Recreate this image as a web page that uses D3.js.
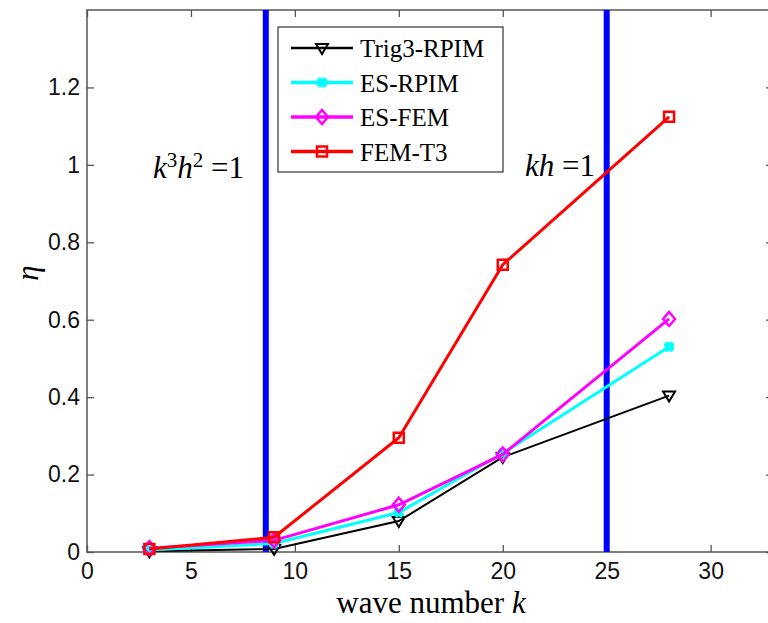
<!DOCTYPE html>
<html>
<head>
<meta charset="utf-8">
<script src="https://cdn.jsdelivr.net/npm/d3@7"></script>
<style>
  body { margin: 0; background: #fff; }
  svg { display: block; }
</style>
</head>
<body>
<div id="canvas"></div>
<script>
"use strict"

/* Canvas size and margins */
let svgWidth = 768;
let svgHeight = 623;
let leftMargin = 87
let topMargin = 10
let plotBottom = 552
let plotRight = 773

/* Data */
let waveNumbers = [3, 9, 15, 20, 28];
let trig3Rpim = [0.002, 0.008, 0.080, 0.245, 0.404];
let esRpim = [0.005, 0.022, 0.102, 0.255, 0.530];
let esFem = [0.010, 0.030, 0.122, 0.252, 0.602];
let femT3 = [0.008, 0.038, 0.295, 0.742, 1.124];
let seriesNames = ["Trig3-RPIM", "ES-RPIM", "ES-FEM", "FEM-T3"];
let xTicks = [0, 5, 10, 15, 20, 25, 30];
let yTicks = [0, 0.2, 0.4, 0.6, 0.8, 1, 1.2];
let limitLines = [8.6, 25];

let series = [
    { name: seriesNames[0], values: trig3Rpim, color: "#000000", width: 2, marker: "tri" },
    { name: seriesNames[1], values: esRpim, color: "#00ffff", width: 3, marker: "star" },
    { name: seriesNames[2], values: esFem, color: "#ff00ff", width: 3, marker: "diamond" },
    { name: seriesNames[3], values: femT3, color: "#ff0000", width: 3, marker: "square" }
];

let svg = d3.select("#canvas")
    .append("svg")
    .attr("width", svgWidth)
    .attr("height", svgHeight);

let xScale = d3.scaleLinear()
    .domain([0, 33])
    .range([leftMargin, plotRight]);

let yScale = d3.scaleLinear()
    .domain([0, 1.4])
    .range([plotBottom, topMargin]);

/* Frame and tick marks */
let axisColor = "#555";
svg.append("rect")
    .attr("x", leftMargin)
    .attr("y", topMargin)
    .attr("width", plotRight - leftMargin)
    .attr("height", plotBottom - topMargin)
    .attr("fill", "none")
    .attr("stroke", axisColor)
    .attr("stroke-width", 1.5);

let xAxis = d3.axisBottom(xScale).tickValues(xTicks).tickSizeInner(-7).tickSizeOuter(0).tickPadding(11);
svg.append("g").attr("transform", "translate(0," + plotBottom + ")").call(xAxis);
let yAxis = d3.axisLeft(yScale).tickValues(yTicks).tickSizeInner(-7).tickSizeOuter(0).tickPadding(7)
    .tickFormat(d3.format("~g"));
svg.append("g").attr("transform", "translate(" + leftMargin + ",0)").call(yAxis);

/* Ticks on top and right side */
svg.append("g").attr("transform", "translate(0," + topMargin + ")")
    .call(d3.axisTop(xScale).tickValues(xTicks).tickSizeInner(-7).tickSizeOuter(0).tickFormat(""));
svg.append("g").attr("transform", "translate(" + plotRight + ",0)")
    .call(d3.axisRight(yScale).tickValues(yTicks).tickSizeInner(-7).tickSizeOuter(0).tickFormat(""));

svg.selectAll(".domain").remove();
svg.selectAll(".tick line").attr("stroke", axisColor).attr("stroke-width", 1.3);
svg.selectAll(".tick text")
    .attr("fill", "#111")
    .style("font-family", "'Liberation Sans', Arial, sans-serif")
    .style("font-size", "23px");

/* Vertical limit lines */
svg.selectAll(".limit")
    .data(limitLines)
    .join("line")
    .attr("class", "limit")
    .attr("x1", d => xScale(d))
    .attr("x2", d => xScale(d))
    .attr("y1", topMargin)
    .attr("y2", plotBottom)
    .attr("stroke", "#0000ff")
    .attr("stroke-width", 6);

/* Marker drawing */
function drawMarker(g, type, color, x, y) {
    let m = g.append("path")
        .attr("fill", "none")
        .attr("stroke", color)
        .attr("stroke-width", 2.5)
        .attr("transform", "translate(" + x + "," + y + ")");
    if (type === "tri") {
        m.attr("d", "M-6,-4L6,-4L0,6Z").attr("stroke-width", 2);
    } else if (type === "square") {
        m.attr("d", "M-5,-5H5V5H-5Z");
    } else if (type === "diamond") {
        m.attr("d", "M0,-7L6,0L0,7L-6,0Z");
    } else {
        m.attr("d", "M-5,-2H5M-5,2H5M-2,-5V5M2,-5V5").attr("stroke-width", 3);
        g.append("circle").attr("cx", x).attr("cy", y).attr("r", 4)
            .attr("fill", color);
    }
}

/* Series lines and markers */
let line = d3.line()
    .x((d, i) => xScale(waveNumbers[i]))
    .y(d => yScale(d));

series.forEach(function (s) {
    svg.append("path")
        .datum(s.values)
        .attr("d", line)
        .attr("fill", "none")
        .attr("stroke", s.color)
        .attr("stroke-width", s.width);
    let g = svg.append("g");
    s.values.forEach(function (v, i) {
        drawMarker(g, s.marker, s.color, xScale(waveNumbers[i]), yScale(v));
    });
});

/* Legend */
let serif = "'Liberation Serif', 'Times New Roman', serif";
let legend = svg.append("g");
legend.append("rect")
    .attr("x", 278)
    .attr("y", 27)
    .attr("width", 225)
    .attr("height", 145)
    .attr("fill", "#fff")
    .attr("stroke", "#333")
    .attr("stroke-width", 1.2);

series.forEach(function (s, i) {
    let y = 48 + i * 34.5;
    legend.append("line")
        .attr("x1", 291)
        .attr("x2", 353)
        .attr("y1", y)
        .attr("y2", y)
        .attr("stroke", s.color)
        .attr("stroke-width", s.width + 0.5);
    drawMarker(legend, s.marker, s.color, 322, y);
    legend.append("text")
        .attr("x", 360)
        .attr("y", y + 9)
        .style("font-family", serif)
        .style("font-size", "25px")
        .text(s.name);
});

/* Annotations */
let ann1 = svg.append("text")
    .attr("x", 153)
    .attr("y", 178)
    .style("font-family", serif)
    .style("font-size", "31px");
ann1.append("tspan").style("font-style", "italic").text("k");
ann1.append("tspan").attr("dy", -11).style("font-size", "21px").text("3");
ann1.append("tspan").attr("dy", 11).style("font-style", "italic").text("h");
ann1.append("tspan").attr("dy", -11).style("font-size", "21px").text("2");
ann1.append("tspan").attr("dy", 11).text(" =1");

let ann2 = svg.append("text")
    .attr("x", 525)
    .attr("y", 176)
    .style("font-family", serif)
    .style("font-size", "31px");
ann2.append("tspan").style("font-style", "italic").text("kh");
ann2.append("tspan").text(" =1");

/* Axis labels */
let xLabel = svg.append("text")
    .attr("x", 431)
    .attr("y", 613)
    .style("text-anchor", "middle")
    .style("font-family", serif)
    .style("font-size", "31px");
xLabel.append("tspan").text("wave number ");
xLabel.append("tspan").style("font-style", "italic").text("k");

svg.append("text")
    .attr("transform", "translate(38,273) rotate(-90)")
    .style("text-anchor", "middle")
    .style("font-family", serif)
    .style("font-style", "italic")
    .style("font-size", "31px")
    .text("η");
</script>
</body>
</html>
